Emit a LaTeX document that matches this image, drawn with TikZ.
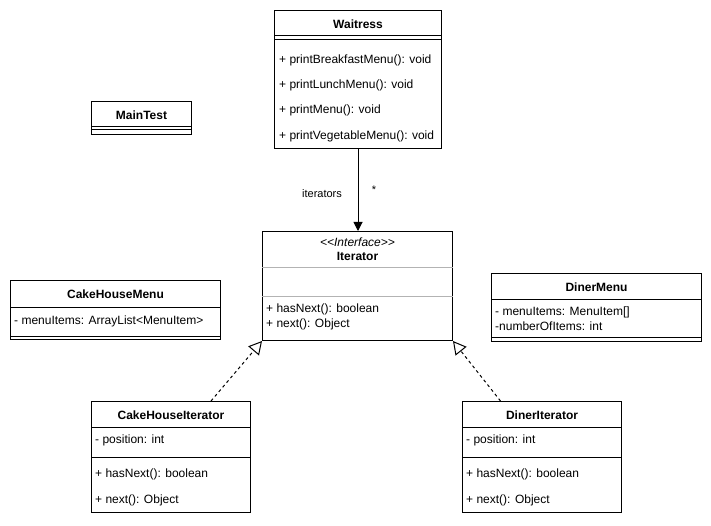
\documentclass[tikz,border=0pt]{standalone}
\usepackage{fontspec}
\setmainfont{Liberation Sans}
\usetikzlibrary{arrows.meta,positioning}
\definecolor{sepgray}{RGB}{179,179,179}

\begin{document}
\begin{tikzpicture}[
    x=1pt, y=-1pt,
    font=\fontsize{12}{14}\selectfont,
    cls/.style={rectangle, draw, line width=1pt, anchor=north west, inner sep=0pt},
    classname/.style={font=\fontsize{12}{14}\selectfont\bfseries, inner sep=0pt, yshift=-1pt},
    member/.style={anchor=west, inner sep=0pt, yshift=-1.5pt},
    compline/.style={line width=1pt},
    lbl/.style={font=\fontsize{11}{13}\selectfont, inner sep=0pt},
    assoc/.style={-{Triangle[length=9pt, width=9pt]}, line width=1pt},
    realize/.style={-{Triangle[open, length=13pt, width=14pt]}, line width=1pt, dash pattern=on 3pt off 3pt}
]
    \fill[white] (0,0) rectangle (711,526);
    \useasboundingbox (0,0) rectangle (711,526);

    \node[cls, minimum width=167pt, minimum height=138pt] (waitress) at (274,10) {};
    \node[classname] (waitressT) at (waitress.north |- 0,23) {Waitress};
    \draw[compline] (waitress.west |- 0,36) -- (waitress.east |- 0,36);
    \draw[compline] (waitress.west |- 0,40) -- (waitress.east |- 0,40);
    \node[member] (w1) at (279,59) {+ printBreakfastMenu(): void};
    \node[member] (w2) at (279,84) {+ printLunchMenu(): void};
    \node[member] (w3) at (279,109) {+ printMenu(): void};
    \node[member] (w4) at (279,135) {+ printVegetableMenu(): void};

    \node[cls, minimum width=100pt, minimum height=33pt] (maintest) at (91,101) {};
    \node[classname] (maintestT) at (maintest.north |- 0,114) {MainTest};
    \draw[compline] (maintest.west |- 0,127) -- (maintest.east |- 0,127);
    \draw[compline] (maintest.west |- 0,130) -- (maintest.east |- 0,130);

    \node[cls, minimum width=190pt, minimum height=109pt] (iter) at (262,231) {};
    \node[inner sep=0pt, yshift=-1pt, font=\fontsize{12}{14}\selectfont\itshape] (iterS) at (iter.north |- 0,241) {<{}<Interface>{}>};
    \node[classname] (iterT) at (iter.north |- 0,255) {Iterator};
    \draw[compline, sepgray] (iter.west |- 0,268) -- (iter.east |- 0,268);
    \draw[compline, sepgray] (iter.west |- 0,296) -- (iter.east |- 0,296);
    \node[member] (i1) at (266,308) {+ hasNext(): boolean};
    \node[member] (i2) at (266,323) {+ next(): Object};

    \node[cls, minimum width=210pt, minimum height=59pt] (cakemenu) at (10,280) {};
    \node[classname] (cakemenuT) at (cakemenu.north |- 0,293) {CakeHouseMenu};
    \draw[compline] (cakemenu.west |- 0,307) -- (cakemenu.east |- 0,307);
    \draw[compline] (cakemenu.west |- 0,336) -- (cakemenu.east |- 0,336);
    \node[member] (cm1) at (14,320) {- menuItems: ArrayList<MenuItem>};

    \node[cls, minimum width=210pt, minimum height=68pt] (dinermenu) at (491,273) {};
    \node[classname] (dinermenuT) at (dinermenu.north |- 0,286) {DinerMenu};
    \draw[compline] (dinermenu.west |- 0,299) -- (dinermenu.east |- 0,299);
    \draw[compline] (dinermenu.west |- 0,337) -- (dinermenu.east |- 0,337);
    \node[member] (dm1) at (495,311) {- menuItems: MenuItem[]};
    \node[member] (dm2) at (495,325) {-numberOfItems: int};

    \node[cls, minimum width=159pt, minimum height=111pt] (cakeit) at (91,401) {};
    \node[classname] (cakeitT) at (cakeit.north |- 0,414) {CakeHouseIterator};
    \draw[compline] (cakeit.west |- 0,427) -- (cakeit.east |- 0,427);
    \draw[compline] (cakeit.west |- 0,457) -- (cakeit.east |- 0,457);
    \node[member] (ci1) at (95,439) {- position: int};
    \node[member] (ci2) at (95,473) {+ hasNext(): boolean};
    \node[member] (ci3) at (95,499) {+ next(): Object};

    \node[cls, minimum width=159pt, minimum height=111pt] (dinerit) at (462,401) {};
    \node[classname] (dineritT) at (dinerit.north |- 0,414) {DinerIterator};
    \draw[compline] (dinerit.west |- 0,427) -- (dinerit.east |- 0,427);
    \draw[compline] (dinerit.west |- 0,457) -- (dinerit.east |- 0,457);
    \node[member] (di1) at (466,439) {- position: int};
    \node[member] (di2) at (466,473) {+ hasNext(): boolean};
    \node[member] (di3) at (466,499) {+ next(): Object};

    \draw[assoc] (waitress.south) -- (waitress.south |- iter.north);
    \node[lbl] (assocL) at (322,194) {iterators};
    \node[lbl] (assocM) at (374,190) {*};

    \draw[realize] ([xshift=40pt]cakeit.north) -- (iter.south west);
    \draw[realize] ([xshift=-41.5pt]dinerit.north) -- (iter.south east);
\end{tikzpicture}
\end{document}
